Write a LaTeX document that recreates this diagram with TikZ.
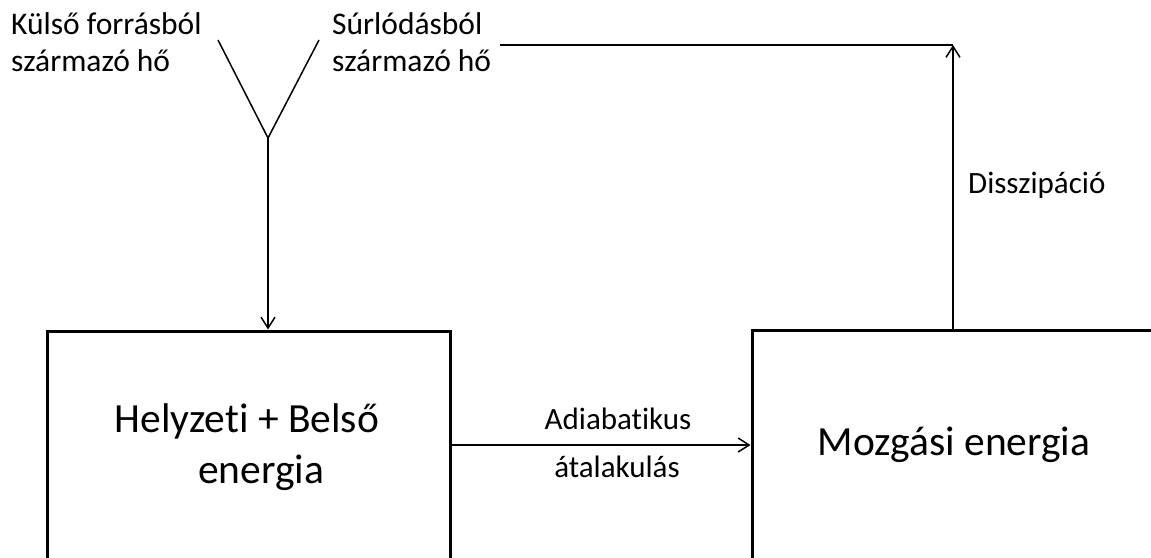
\documentclass[tikz,border=0pt]{standalone}
\usepackage{fontspec}
\setmainfont{Carlito}[Ligatures=NoCommon]
\usetikzlibrary{arrows.meta}
\begin{document}
\begin{tikzpicture}[x=1pt,y=-1pt,
  box/.style={draw, line width=3pt, inner sep=0pt},
  conn/.style={line width=1.5pt},
  arr/.style={conn, -{Straight Barb[length=11pt,width=14pt,line width=1.5pt]}},
  lbl/.style={inner sep=0pt, font=\fontsize{31.5}{36}\selectfont},
  sml/.style={inner sep=0pt, font=\fontsize{31}{36}\selectfont},
  big/.style={inner sep=0pt, align=center, font=\fontsize{41.5}{51}\selectfont}]
\useasboundingbox (0,0) rectangle (1151,557);
\clip (0,0) rectangle (1151,557);
% boxes
\node[box, minimum width=403pt, minimum height=300pt] (L) at (248.5,481) {};
\node[box, minimum width=496pt, minimum height=300pt] (R) at (1000,480) {};
\node[big] (Lt) at (261,447) {Helyzeti + Belső\hspace*{28pt}\\energia};
\node[big, anchor=base] (Rt) at (954,455) {Mozgási energia};
% top labels
\node[lbl, anchor=base west] (k1) at (11,34) {Külső forrásból};
\node[lbl, anchor=base west] (k2) at (11,71) {származó hő};
\node[lbl, anchor=base west] (s1) at (332,34) {Súrlódásból};
\node[lbl, anchor=base west] (s2) at (332,71) {származó hő};
\node[sml, anchor=base west] (d) at (968,193) {Disszipáció};
\node[sml, anchor=base] (a1) at (618,429) {Adiabatikus};
\node[sml, anchor=base] (a2) at (617,477) {átalakulás};
% connectors
\coordinate (ya1) at (218,40);
\coordinate (ya2) at (319,40);
\coordinate (yj) at (268,138);
\draw[conn] (ya1) -- (yj) -- (ya2);
\draw[arr] (yj) -- (yj |- L.north);
\coordinate (h) at (0,445);
\draw[arr] (L.east |- h) -- (R.west |- h);
\coordinate (c) at (953,45);
\coordinate (s) at (500,45);
\draw[arr] (c |- R.north) -- (c);
\draw[conn] (s) -- (c);
\end{tikzpicture}
\end{document}
